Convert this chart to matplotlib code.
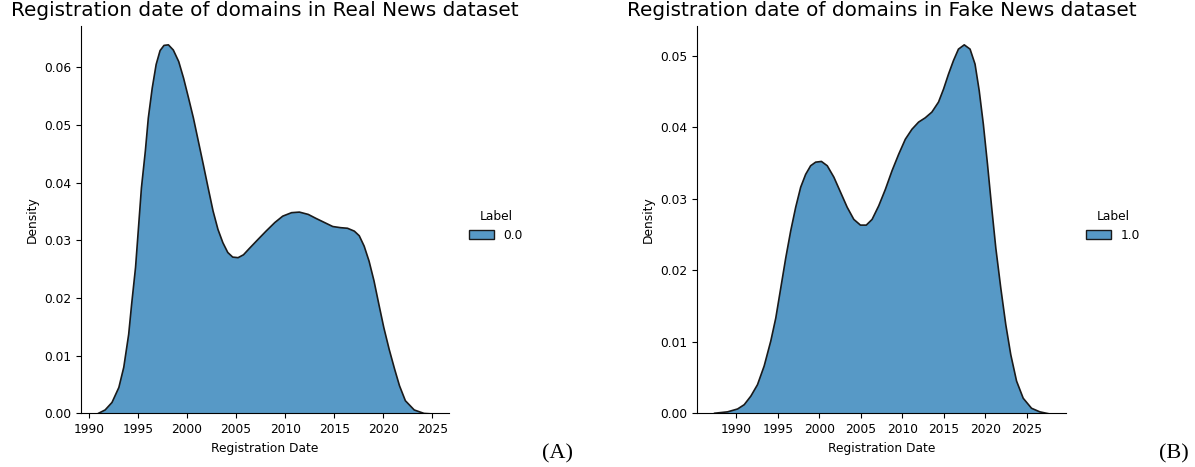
import matplotlib
matplotlib.use("Agg")
import matplotlib.pyplot as plt
from matplotlib.patches import Patch
from matplotlib.ticker import FormatStrFormatter

# density curves (year, density)
years_real = [1990.9, 1991.6, 1992.3, 1993.0, 1993.5, 1994.0, 1994.3, 1994.7, 1995.0,
              1995.3, 1995.7, 1996.0, 1996.4, 1996.8, 1997.2, 1997.6, 1998.05, 1998.55,
              1999.1, 1999.6, 2000.1, 2000.6, 2001.1, 2001.6, 2002.1, 2002.6, 2003.1,
              2003.6, 2004.1, 2004.6, 2005.15, 2005.7, 2006.3, 2007.2, 2008.0, 2008.9,
              2009.7, 2010.6, 2011.4, 2012.3, 2013.1, 2013.95, 2014.8, 2015.6, 2016.3,
              2017.0, 2017.5, 2018.0, 2018.5, 2019.0, 2019.5, 2020.0, 2020.55, 2021.1,
              2021.6, 2022.2, 2023.1, 2024.1, 2025.0]
dens_real = [0.0001, 0.0007, 0.0020, 0.0046, 0.0081, 0.0138, 0.0190, 0.0254, 0.0323,
             0.0392, 0.0456, 0.0513, 0.0565, 0.0606, 0.0630, 0.0639, 0.0640, 0.0631,
             0.0611, 0.0582, 0.0548, 0.0513, 0.0473, 0.0433, 0.0392, 0.0352, 0.0320,
             0.0297, 0.0280, 0.0272, 0.0271, 0.0276, 0.0287, 0.0303, 0.0317, 0.0332,
             0.0343, 0.0349, 0.0350, 0.0346, 0.0339, 0.0332, 0.0325, 0.0323, 0.0322,
             0.0317, 0.0309, 0.0291, 0.0265, 0.0231, 0.0190, 0.0150, 0.0112, 0.0078,
             0.0049, 0.0023, 0.0007, 0.0001, 0.0]

years_fake = [1987.3, 1988.9, 1990.1, 1990.9, 1991.7, 1992.5, 1993.3, 1994.1, 1994.7,
              1995.3, 1995.9, 1996.5, 1997.1, 1997.7, 1998.3, 1998.9, 1999.5, 2000.2,
              2000.9, 2001.7, 2002.5, 2003.3, 2004.1, 2004.9, 2005.6, 2006.3, 2007.1,
              2007.9, 2008.7, 2009.5, 2010.3, 2011.1, 2011.9, 2012.7, 2013.5, 2014.3,
              2014.9, 2015.5, 2016.1, 2016.7, 2017.4, 2018.1, 2018.7, 2019.2, 2019.7,
              2020.2, 2020.7, 2021.2, 2021.8, 2022.4, 2023.0, 2023.7, 2024.5, 2025.5,
              2026.5, 2027.7]
dens_fake = [0.0001, 0.0003, 0.0007, 0.0013, 0.0025, 0.0041, 0.0067, 0.0102, 0.0134,
             0.0176, 0.0218, 0.0256, 0.0289, 0.0317, 0.0335, 0.0347, 0.0352, 0.0353,
             0.0347, 0.0331, 0.0310, 0.0289, 0.0272, 0.0264, 0.0264, 0.0272, 0.0291,
             0.0314, 0.0340, 0.0363, 0.0384, 0.0398, 0.0408, 0.0414, 0.0422, 0.0436,
             0.0454, 0.0475, 0.0494, 0.0510, 0.0516, 0.0510, 0.0489, 0.0452, 0.0405,
             0.0349, 0.0289, 0.0232, 0.0176, 0.0125, 0.0083, 0.0046, 0.0022, 0.0008,
             0.0003, 0.0]

titles = ["Registration date of domains in Real News dataset",
          "Registration date of domains in Fake News dataset"]
legend_labels = ["0.0", "1.0"]
panel_tags = ["(A)", "(B)"]

face = (0.1216, 0.4667, 0.7059, 0.75)
edge = "#1a1a1a"
small = 8.8

fig = plt.figure(figsize=(11.95, 4.67), dpi=100)
ax1 = fig.add_axes([0.0678, 0.1146, 0.308, 0.830])
ax2 = fig.add_axes([0.5833, 0.1146, 0.3088, 0.830])

panels = [(ax1, years_real, dens_real), (ax2, years_fake, dens_fake)]
for i, (ax, xs, ys) in enumerate(panels):
    ax.fill_between(xs, ys, 0, facecolor=face, edgecolor=edge, linewidth=1.2)
    ax.set_ylim(bottom=0)
    ax.set_xticks(range(1990, 2026, 5))
    ax.yaxis.set_major_formatter(FormatStrFormatter("%.2f"))
    ax.tick_params(labelsize=small, length=3.5, width=0.8)
    ax.spines["top"].set_visible(False)
    ax.spines["right"].set_visible(False)
    ax.set_xlabel("Registration Date", fontsize=small)
    ax.set_ylabel("Density", fontsize=small)
    ax.set_title(titles[i], fontsize=14.4, pad=7)
    handle = Patch(facecolor=face, edgecolor=edge, linewidth=1.0)
    ax.legend([handle], [legend_labels[i]], title="Label", frameon=False,
              loc="center left", bbox_to_anchor=(1.025, 0.484),
              fontsize=small, title_fontsize=small)

fig.text(557.5 / 1195, 1 - 454 / 467, panel_tags[0], family="Liberation Serif",
         fontsize=16, ha="center", va="center")
fig.text(1174 / 1195, 1 - 454 / 467, panel_tags[1], family="Liberation Serif",
         fontsize=16, ha="center", va="center")

fig.savefig("out.png", dpi=100)
